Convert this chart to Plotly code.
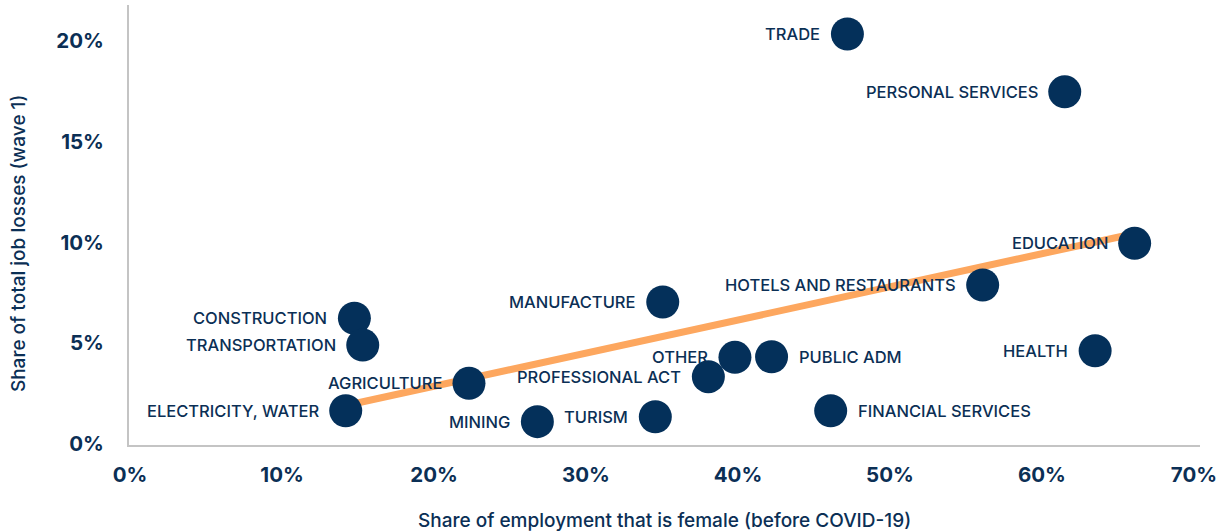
import plotly.graph_objects as go

sectors = ["TRADE", "PERSONAL SERVICES", "EDUCATION", "HOTELS AND RESTAURANTS", "HEALTH",
           "FINANCIAL SERVICES", "MANUFACTURE", "CONSTRUCTION", "TRANSPORTATION", "AGRICULTURE",
           "ELECTRICITY, WATER", "MINING", "TURISM", "PROFESSIONAL ACT", "OTHER", "PUBLIC ADM"]
female_share = [47.2, 61.5, 66.1, 56.1, 63.5,
                46.1, 35.05, 14.76, 15.31, 22.3,
                14.19, 26.8, 34.56, 38.05, 39.8, 42.21]
job_loss_share = [20.35, 17.48, 9.96, 7.89, 4.63,
                  1.65, 7.05, 6.24, 4.91, 3.01,
                  1.65, 1.11, 1.35, 3.34, 4.3, 4.33]
label_on_right = [False] * 5 + [True] + [False] * 9 + [True]

trend_x = [14.19, 66.12]
trend_y = [1.91, 10.45]

x_ticks = [0, 10, 20, 30, 40, 50, 60, 70]
x_tick_text = ["0%", "10%", "20%", "30%", "40%", "50%", "60%", "70%"]
y_ticks = [0, 5, 10, 15, 20]
y_tick_text = ["0%", "5%", "10%", "15%", "20%"]

NAVY = "#04305A"
TEXT = "#0B2F55"
FONT = "Inter"

fig = go.Figure()
fig.add_trace(go.Scatter(x=trend_x, y=trend_y, mode="lines",
                         line=dict(color="#FDA75F", width=7), hoverinfo="skip",
                         showlegend=False))
fig.add_trace(go.Scatter(x=female_share, y=job_loss_share, mode="markers",
                         text=sectors, hoverinfo="text",
                         marker=dict(size=33, color=NAVY, line=dict(width=0)),
                         showlegend=False))

annotations = []
for name, xv, yv, right in zip(sectors, female_share, job_loss_share, label_on_right):
    annotations.append(dict(
        text=name, x=xv, y=yv, xref="x", yref="y", showarrow=False,
        xanchor="left" if right else "right", yanchor="middle",
        xshift=25 if right else -25,
        font=dict(family=FONT, size=16.5, color=TEXT, weight=500)))

annotations += [
    dict(text="Share of employment that is female (before COVID-19)", xref="paper", yref="paper",
         x=0.5, y=-0.1727, xanchor="center", yanchor="middle", showarrow=False,
         font=dict(family=FONT, size=19, color=TEXT, weight=500)),
    dict(text="Share of total job losses (wave 1)", xref="paper", yref="paper",
         x=-0.1036, y=0.459, xanchor="center", yanchor="middle",
         textangle=-90, showarrow=False,
         font=dict(family=FONT, size=19, color=TEXT, weight=500)),
]

fig.update_layout(
    width=1225, height=531,
    margin=dict(l=129, r=25, t=5, b=86),
    plot_bgcolor="white", paper_bgcolor="white",
    font=dict(family=FONT, color=TEXT),
    xaxis=dict(range=[-0.07, 70.4], tickvals=x_ticks, ticktext=x_tick_text, automargin=False,
               showgrid=False, zeroline=False, showline=True, linecolor="#C4C4C4", linewidth=2,
               ticks="", ticklabelstandoff=10,
               tickfont=dict(family=FONT, size=20.5, color=TEXT, weight=700)),
    yaxis=dict(range=[-0.05, 21.79], tickvals=y_ticks, ticktext=y_tick_text, automargin=False,
               showgrid=False, zeroline=False, showline=True, linecolor="#C4C4C4", linewidth=2,
               ticks="", ticklabelstandoff=19,
               tickfont=dict(family=FONT, size=20.5, color=TEXT, weight=700)),
    annotations=annotations,
)

fig.write_html("out.html", config={"displayModeBar": False},
               post_script="document.body.style.margin='0';")
